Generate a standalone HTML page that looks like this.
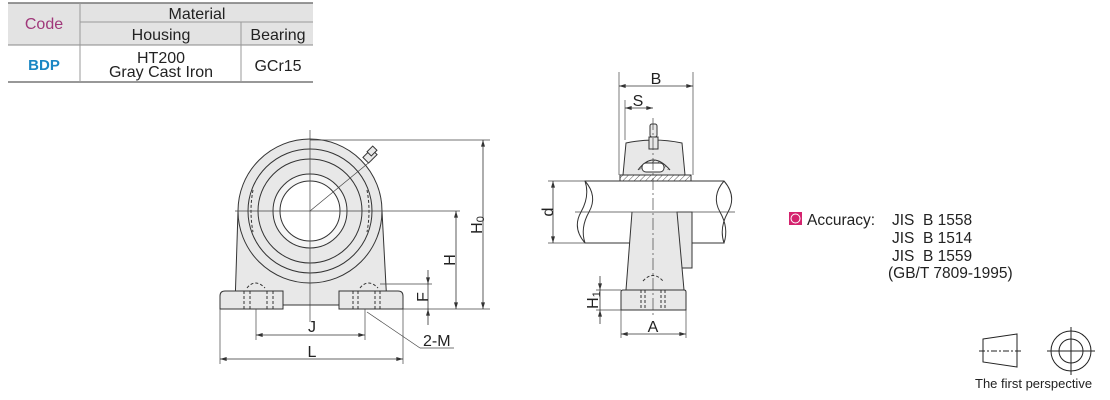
<!DOCTYPE html>
<html><head><style>
body{margin:0;background:#fff;width:1110px;height:400px;overflow:hidden;font-family:"Liberation Sans",sans-serif}
svg{position:absolute;left:0;top:0}
text{font-family:"Liberation Sans",sans-serif}
</style></head><body>
<svg width="1110" height="400" viewBox="0 0 1110 400">
<defs>
<marker id="a" viewBox="0 0 10 6" refX="10" refY="3" markerWidth="9" markerHeight="5" orient="auto-start-reverse"><path d="M0,0L10,3L0,6z" fill="#333"/></marker>
<pattern id="h" width="4" height="4" patternUnits="userSpaceOnUse" patternTransform="rotate(45)"><line x1="0" y1="0" x2="0" y2="4" stroke="#555" stroke-width="1"/></pattern>
</defs>
<!-- table -->
<rect x="8" y="3" width="305" height="42" fill="#e3e3e3"/>
<line x1="8" y1="3" x2="313" y2="3" stroke="#777" stroke-width="1.5"/>
<line x1="80" y1="22" x2="313" y2="22" stroke="#999"/>
<line x1="8" y1="45" x2="313" y2="45" stroke="#888"/>
<line x1="8" y1="82" x2="313" y2="82" stroke="#777" stroke-width="1.5"/>
<line x1="80" y1="3" x2="80" y2="82" stroke="#999"/>
<line x1="241" y1="22" x2="241" y2="82" stroke="#999"/>
<g font-size="16" fill="#222" text-anchor="middle">
<text x="44" y="29" fill="#a0387a">Code</text>
<text x="197" y="19">Material</text>
<text x="161" y="40">Housing</text>
<text x="278" y="40">Bearing</text>
<text x="44" y="70" fill="#1a86c4" font-weight="bold" font-size="15">BDP</text>
<text x="161" y="63">HT200</text>
<text x="161" y="77">Gray Cast Iron</text>
<text x="278" y="71">GCr15</text>
</g>
<!-- front view -->
<g stroke="#333" stroke-width="1" fill="#e8e8e8">
<path d="M238,211 L235,305 L387,305 L382,211 Z"/>
<circle cx="310" cy="211" r="72"/>
<path d="M220,296 Q220,291 225,291 L283,291 L283,309 L220,309 Z"/>
<path d="M339,291 L398,291 Q403,291 403,296 L403,309 L339,309 Z"/>
<circle cx="310" cy="211" r="62" fill="none"/>
<circle cx="310" cy="211" r="52" fill="none"/>
<circle cx="310" cy="211" r="37" fill="#f4f4f4"/>
<circle cx="310" cy="211" r="30" fill="#fff"/>
<path d="M253,190 Q249,211 253,232 M367,190 Q371,211 367,232" fill="none" stroke-dasharray="3,2"/>
<path d="M247,288 Q255,278 265,288 M360,288 Q368,278 378,288" fill="none" stroke-dasharray="3,2"/>
<path d="M244,291V309M250,291V309M267,291V309M273,291V309M353,291V309M358,291V309M375,291V309M380,291V309" stroke-dasharray="3,2" fill="none"/>
<rect x="364" y="152" width="12" height="8" transform="rotate(-45 370 156)"/>
<rect x="368" y="148" width="8" height="6" transform="rotate(-45 372 151)"/>
</g>
<g stroke="#444" stroke-width="0.7" fill="none">
<line x1="310" y1="130" x2="310" y2="322"/>
<line x1="235" y1="211" x2="460" y2="211"/>
<line x1="310" y1="211" x2="372" y2="160"/>
<line x1="310" y1="140" x2="490" y2="140"/>
<line x1="403" y1="309" x2="490" y2="309"/>
<line x1="380" y1="284" x2="432" y2="284"/>
<line x1="256" y1="309" x2="256" y2="340"/>
<line x1="365" y1="309" x2="365" y2="340"/>
<line x1="220" y1="309" x2="220" y2="364"/>
<line x1="403" y1="309" x2="403" y2="364"/>
<line x1="367" y1="312" x2="420" y2="348"/>
<line x1="420" y1="348" x2="454" y2="348"/>
</g>
<g stroke="#333" stroke-width="0.8" fill="none" marker-start="url(#a)" marker-end="url(#a)">
<line x1="483" y1="140" x2="483" y2="309"/>
<line x1="456" y1="211" x2="456" y2="309"/>
<line x1="256" y1="335" x2="365" y2="335"/>
<line x1="220" y1="359" x2="403" y2="359"/>
</g>
<g stroke="#333" stroke-width="0.8">
<line x1="428" y1="270" x2="428" y2="284" marker-end="url(#a)"/>
<line x1="428" y1="325" x2="428" y2="309" marker-end="url(#a)"/>
<line x1="428" y1="284" x2="428" y2="309"/>
</g>
<g font-size="16" fill="#222">
<text x="312" y="332" text-anchor="middle">J</text>
<text x="312" y="357" text-anchor="middle">L</text>
<text x="423" y="346">2-M</text>
<text transform="translate(428,297) rotate(-90)" text-anchor="middle">F</text>
<text transform="translate(455,260) rotate(-90)" text-anchor="middle">H</text>
<text transform="translate(482,225) rotate(-90)" text-anchor="middle">H<tspan font-size="11" dy="2">0</tspan></text>
</g>
<!-- side view -->
<g stroke="#333" stroke-width="1" fill="#e8e8e8">
<path d="M585,181 L724,181 Q737,196 728,212 Q719,228 724,243 L585,243 Q572,228 581,212 Q590,196 585,181 Z" fill="#fff"/>
<path d="M585,181 Q598,196 589,212 Q580,228 585,243" fill="none"/>
<path d="M724,181 Q711,196 720,212 Q729,228 724,243" fill="none"/>
<rect x="677" y="212" width="15" height="56"/>
<path d="M632,212 L626,290 L684,290 L677,212" />
<path d="M621,292 Q621,290 623,290 L684,290 Q686,290 686,292 L686,310 L621,310 Z"/>
<path d="M623,175 L626,143 Q653,137 682,143 L685,175 Z"/>
<rect x="620" y="175" width="71" height="6" fill="url(#h)"/>
<path d="M638,170 Q653,150 670,170" fill="url(#h)"/>
<rect x="642" y="163" width="22" height="9" rx="4" fill="#fff"/>
<rect x="649" y="137" width="9" height="12"/>
<rect x="650" y="124" width="7" height="13" rx="2"/>
<path d="M643,281 Q653,270 663,281" fill="none" stroke-dasharray="3,2"/>
<path d="M641,290V310M645,290V310M661,290V310M665,290V310" stroke-dasharray="3,2" fill="none"/>
</g>
<g stroke="#444" stroke-width="0.7" fill="none">
<line x1="653" y1="118" x2="653" y2="318" stroke-dasharray="12,3,2,3"/>
<line x1="575" y1="212" x2="735" y2="212"/>
<line x1="619" y1="72" x2="619" y2="175"/>
<line x1="693" y1="72" x2="693" y2="175"/>
<line x1="625" y1="100" x2="625" y2="140"/>
<line x1="548" y1="181" x2="585" y2="181"/>
<line x1="548" y1="243" x2="585" y2="243"/>
<line x1="596" y1="290" x2="621" y2="290"/>
<line x1="596" y1="310" x2="621" y2="310"/>
<line x1="621" y1="310" x2="621" y2="338"/>
<line x1="686" y1="310" x2="686" y2="338"/>
</g>
<g stroke="#333" stroke-width="0.8" fill="none">
<line x1="619" y1="86" x2="693" y2="86" marker-start="url(#a)" marker-end="url(#a)"/>
<line x1="625" y1="108" x2="653" y2="108" marker-start="url(#a)" marker-end="url(#a)"/>
<line x1="553" y1="181" x2="553" y2="243" marker-start="url(#a)" marker-end="url(#a)"/>
<line x1="621" y1="334" x2="686" y2="334" marker-start="url(#a)" marker-end="url(#a)"/>
<line x1="600" y1="276" x2="600" y2="290" marker-end="url(#a)"/>
<line x1="600" y1="324" x2="600" y2="310" marker-end="url(#a)"/>
<line x1="600" y1="290" x2="600" y2="310"/>
</g>
<g font-size="16" fill="#222" text-anchor="middle">
<text x="656" y="84">B</text>
<text x="638" y="106">S</text>
<text x="653" y="332">A</text>
<text transform="translate(553,212) rotate(-90)">d</text>
<text transform="translate(598,300) rotate(-90)">H<tspan font-size="11" dy="2">1</tspan></text>
</g>
<!-- accuracy -->
<rect x="789" y="212" width="13" height="13" fill="#d4236e"/>
<circle cx="795.5" cy="218.5" r="4.5" fill="none" stroke="#fff" stroke-width="1"/>
<g font-size="15.5" fill="#222">
<text x="807" y="225">Accuracy:</text>
<text x="892" y="225">JIS&#160; B 1558</text>
<text x="892" y="243">JIS&#160; B 1514</text>
<text x="892" y="261">JIS&#160; B 1559</text>
<text x="888" y="278">(GB/T 7809-1995)</text>
</g>
<!-- projection symbol -->
<g stroke="#222" stroke-width="1" fill="none">
<path d="M983,339 L1017,334 L1017,367 L983,362 Z"/>
<line x1="979" y1="351" x2="1022" y2="351" stroke-dasharray="6,2,2,2"/>
<circle cx="1071" cy="351" r="20"/>
<circle cx="1071" cy="351" r="12"/>
<line x1="1047" y1="351" x2="1095" y2="351"/>
<line x1="1071" y1="327" x2="1071" y2="375"/>
</g>
<text x="975" y="388" font-size="13" fill="#222">The first perspective</text>
</svg>
</body></html>
